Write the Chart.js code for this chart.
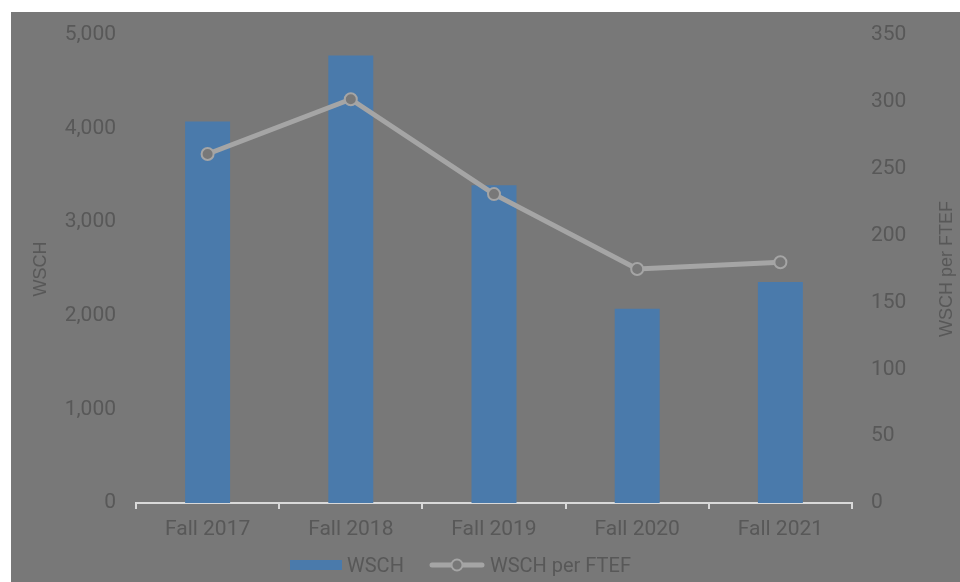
<!DOCTYPE html>
<html>
<head>
<meta charset="utf-8">
<script src="https://cdn.jsdelivr.net/npm/chart.js@4/dist/chart.umd.min.js"></script>
<style>
  html, body { margin: 0; padding: 0; background: #ffffff; }
  #panel { position: absolute; left: 11px; top: 12px; width: 949px; height: 570px; background: #787878; }
  #chart { position: absolute; left: 0; top: 0; }
  #legend { position: absolute; left: 279px; top: 540px; height: 26px; display: flex; align-items: center;
            font: 20px Roboto, sans-serif; color: #585858; white-space: nowrap; }
  #legend .item { display: flex; align-items: center; margin-right: 25px; }
  #legend canvas { margin-right: 5px; }
</style>
</head>
<body>
<div id="panel">
  <canvas id="chart" width="949" height="570"></canvas>
  <div id="legend"></div>
</div>
<script>
// values
var terms = ['Fall 2017', 'Fall 2018', 'Fall 2019', 'Fall 2020', 'Fall 2021'];
var wsch = [4075, 4780, 3395, 2075, 2360];
var wschPerFtef = [261, 302, 231, 175, 180];

var textColor = '#585858',
    barColor = '#4a7aab',
    lineColor = '#a5a5a5',
    panelColor = '#787878',
    axisColor = '#d9d9d9';

// legend swatches: a flat bar and a line with a hollow marker
function swatch(kind) {
    var c = document.createElement('canvas');
    var ctx = c.getContext('2d');
    if (kind === 'bar') {
        c.width = 52; c.height = 10;
        ctx.fillStyle = barColor;
        ctx.fillRect(0, 0, 52, 10);
    } else {
        c.width = 56; c.height = 14;
        ctx.strokeStyle = lineColor;
        ctx.lineWidth = 5;
        ctx.lineCap = 'round';
        ctx.beginPath(); ctx.moveTo(3, 7); ctx.lineTo(53, 7); ctx.stroke();
        ctx.fillStyle = panelColor;
        ctx.lineWidth = 2;
        ctx.beginPath(); ctx.arc(28, 7, 5.5, 0, Math.PI * 2); ctx.fill(); ctx.stroke();
    }
    return c;
}

// right axis title reads bottom to top, like the left one
var rightTitle = {
    id: 'rightTitle',
    afterDraw: function(chart) {
        var ctx = chart.ctx, area = chart.chartArea;
        ctx.save();
        ctx.translate(936, (area.top + area.bottom) / 2);
        ctx.rotate(-Math.PI / 2);
        ctx.font = '18px "Liberation Sans", Arial, sans-serif';
        ctx.fillStyle = textColor;
        ctx.textAlign = 'center';
        ctx.textBaseline = 'middle';
        ctx.fillText('WSCH per FTEF', 0, 0);
        ctx.restore();
    }
};

// fixed axis sizes so the plot area sits where the reference has it
function fitVertical(width) {
    return function(scale) {
        scale.width = width;
        scale.paddingTop = 0;
        scale.paddingBottom = 0;
    };
}

Chart.defaults.font.family = 'Roboto, sans-serif';
Chart.defaults.font.size = 21;
Chart.defaults.color = textColor;

var chart = new Chart(document.getElementById('chart'), {
    type: 'bar',
    data: {
        labels: terms,
        datasets: [{
            label: 'WSCH',
            data: wsch,
            yAxisID: 'y',
            backgroundColor: barColor,
            categoryPercentage: 1,
            barPercentage: 0.314,
            order: 1
        }, {
            type: 'line',
            label: 'WSCH per FTEF',
            data: wschPerFtef,
            yAxisID: 'y1',
            borderColor: lineColor,
            borderWidth: 5,
            pointRadius: 6,
            pointBorderWidth: 2,
            pointBackgroundColor: panelColor,
            pointBorderColor: lineColor,
            order: 0
        }]
    },
    options: {
        responsive: false,
        animation: false,
        layout: { autoPadding: false, padding: { top: 23, left: 0, right: 0, bottom: 40 } },
        plugins: {
            tooltip: { enabled: false },
            legend: { display: false }
        },
        scales: {
            x: {
                offset: true,
                grid: { display: true, drawOnChartArea: false, drawTicks: true, tickLength: 6, color: axisColor, lineWidth: 2, offset: true },
                border: { display: true, color: axisColor, width: 2 },
                ticks: { padding: 8, color: textColor, maxRotation: 0 },
                afterFit: function(scale) { scale.height = 39; }
            },
            y: {
                position: 'left',
                min: 0, max: 5000,
                grid: { display: false, drawTicks: false },
                border: { display: false },
                ticks: { stepSize: 1000, padding: 20, color: textColor },
                title: { display: true, text: 'WSCH', color: textColor, font: { family: '"Liberation Sans", Arial, sans-serif', size: 18 }, padding: { top: 19, bottom: 0 } },
                afterFit: fitVertical(125)
            },
            y1: {
                position: 'right',
                min: 0, max: 350,
                grid: { display: false, drawTicks: false },
                border: { display: false },
                ticks: { stepSize: 50, padding: 19, color: textColor },
                afterFit: fitVertical(108)
            }
        }
    },
    plugins: [rightTitle]
});

// html legend built from the datasets
var legend = document.getElementById('legend');
chart.data.datasets.forEach(function(ds) {
    var item = document.createElement('span');
    item.className = 'item';
    item.appendChild(swatch(ds.type === 'line' ? 'line' : 'bar'));
    item.appendChild(document.createTextNode(ds.label));
    legend.appendChild(item);
});
</script>
</body>
</html>
